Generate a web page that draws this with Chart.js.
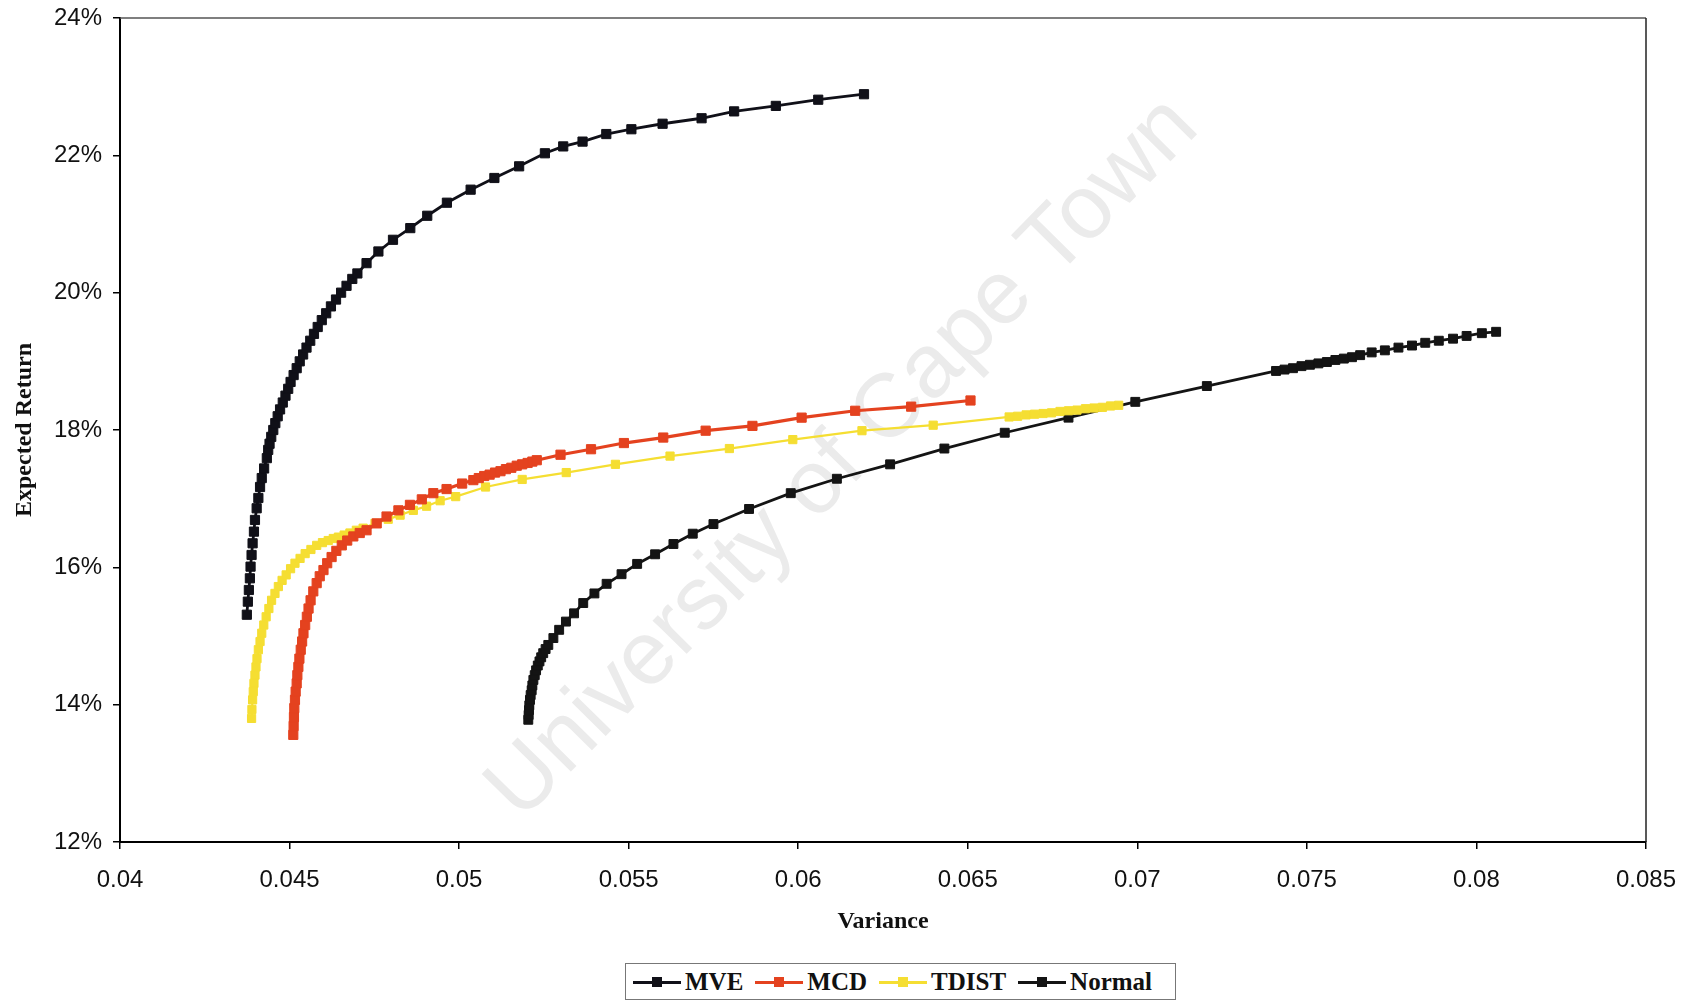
<!DOCTYPE html>
<html>
<head>
<meta charset="utf-8">
<script src="https://cdn.jsdelivr.net/npm/chart.js@4.4.1/dist/chart.umd.min.js"></script>
<style>
  html, body { margin: 0; padding: 0; background: #fff; }
  #wrap { position: relative; width: 1692px; height: 1002px; }
  #legend {
    position: absolute; left: 625px; top: 963px; width: 551px; height: 37px;
    box-sizing: border-box; border: 1px solid #777; background: #fff;
    display: flex; align-items: center; padding-left: 7px;
    font: bold 25px "Liberation Serif", serif; color: #111;
  }
  .item { display: flex; align-items: center; margin-right: 12px; }
  .swatch { position: relative; width: 48px; height: 12px; margin-right: 4px; }
  .swatch .ln { position: absolute; left: 0; right: 0; top: 5px; height: 3px; }
  .swatch .pt { position: absolute; left: 19px; top: 1px; width: 10px; height: 10px; }
</style>
</head>
<body>
<div id="wrap">
  <canvas id="chart" width="1692" height="1002"></canvas>
  <div id="legend"></div>
</div>
<script>
(function () {
  // axes
  const xTicks = [0.04, 0.045, 0.05, 0.055, 0.06, 0.065, 0.07, 0.075, 0.08, 0.085];
  const xTickLabels = ['0.04', '0.045', '0.05', '0.055', '0.06', '0.065', '0.07', '0.075', '0.08', '0.085'];
  const yTicks = [12, 14, 16, 18, 20, 22, 24];
  const yTickLabels = ['12%', '14%', '16%', '18%', '20%', '22%', '24%'];

  const seriesNames = ['MVE', 'MCD', 'TDIST', 'Normal'];
  const seriesColors = ['#101018', '#e4421f', '#f5de32', '#141414'];

  // MVE frontier: variance / expected return (%)
  const mveVariance = [
    0.04374, 0.04377, 0.04380, 0.04383, 0.04385, 0.04388, 0.04391, 0.04395, 0.04398, 0.04403,
    0.04408, 0.04413, 0.04418, 0.04425, 0.04433, 0.04437, 0.04441, 0.04446, 0.04452, 0.04458,
    0.04465, 0.04472, 0.04480, 0.04488, 0.04496, 0.04503, 0.04512, 0.04521, 0.04530, 0.04540,
    0.04550, 0.04561, 0.04572, 0.04583, 0.04595, 0.04608, 0.04622, 0.04637, 0.04652, 0.04668,
    0.04685, 0.04700, 0.04727, 0.04762, 0.04805, 0.04856, 0.04906, 0.04964, 0.05034, 0.05104,
    0.05177, 0.05253, 0.05307, 0.05364, 0.05434, 0.05508, 0.05600, 0.05715, 0.05811, 0.05934,
    0.06059, 0.06194
  ];
  const mveReturn = [
    15.31, 15.50, 15.67, 15.84, 16.01, 16.18, 16.35, 16.52, 16.69, 16.86,
    17.01, 17.17, 17.30, 17.44, 17.59, 17.71, 17.80, 17.90, 18.00, 18.10,
    18.20, 18.30, 18.40, 18.50, 18.60, 18.70, 18.80, 18.90, 19.00, 19.10,
    19.20, 19.30, 19.40, 19.50, 19.60, 19.70, 19.80, 19.90, 20.00, 20.10,
    20.20, 20.28, 20.43, 20.60, 20.77, 20.94, 21.12, 21.31, 21.50, 21.67,
    21.84, 22.03, 22.13, 22.20, 22.31, 22.38, 22.46, 22.54, 22.64, 22.72,
    22.81, 22.89
  ];

  // MCD frontier
  const mcdVariance = [
    0.04511, 0.04512, 0.04513, 0.04514, 0.04516, 0.04518, 0.04521, 0.04523, 0.04526, 0.04529,
    0.04533, 0.04537, 0.04541, 0.04546, 0.04551, 0.04556, 0.04562, 0.04570, 0.04580, 0.04589,
    0.04600, 0.04611, 0.04624, 0.04638, 0.04654, 0.04670, 0.04688, 0.04707, 0.04727, 0.04757,
    0.04786, 0.04821, 0.04855, 0.04890, 0.04924, 0.04963, 0.05009, 0.05042, 0.05058, 0.05074,
    0.05090, 0.05106, 0.05122, 0.05138, 0.05154, 0.05170, 0.05186, 0.05202, 0.05216, 0.05229,
    0.05299, 0.05389, 0.05486, 0.05602, 0.05727, 0.05865, 0.06010, 0.06168, 0.06333, 0.06508
  ];
  const mcdReturn = [
    13.56, 13.69, 13.82, 13.95, 14.07, 14.19, 14.31, 14.43, 14.55, 14.67,
    14.80, 14.92, 15.04, 15.16, 15.28, 15.40, 15.52, 15.65, 15.77, 15.87,
    15.96, 16.06, 16.15, 16.24, 16.32, 16.39, 16.45, 16.50, 16.54, 16.64,
    16.74, 16.83, 16.91, 16.99, 17.08, 17.14, 17.22, 17.27, 17.30, 17.33,
    17.35, 17.38, 17.40, 17.43, 17.45, 17.48, 17.50, 17.52, 17.54, 17.56,
    17.64, 17.72, 17.81, 17.89, 17.99, 18.06, 18.18, 18.28, 18.34, 18.43
  ];

  // TDIST frontier
  const tdistVariance = [
    0.04388, 0.04389, 0.04391, 0.04393, 0.04395, 0.04398, 0.04401, 0.04404, 0.04408, 0.04413,
    0.04418, 0.04424, 0.04431, 0.04439, 0.04447, 0.04457, 0.04467, 0.04478, 0.04490, 0.04503,
    0.04516, 0.04531, 0.04546, 0.04563, 0.04580, 0.04597, 0.04614, 0.04629, 0.04644, 0.04661,
    0.04678, 0.04697, 0.04717, 0.04752, 0.04791, 0.04826, 0.04865, 0.04904, 0.04944, 0.04990,
    0.05078, 0.05186, 0.05316, 0.05461, 0.05622, 0.05797, 0.05984, 0.06188, 0.06398, 0.06622,
    0.06647, 0.06672, 0.06697, 0.06722, 0.06747, 0.06772, 0.06797, 0.06822, 0.06847, 0.06872,
    0.06897, 0.06921, 0.06945
  ];
  const tdistReturn = [
    13.80, 13.93, 14.07, 14.19, 14.31, 14.43, 14.55, 14.67, 14.80, 14.92,
    15.04, 15.16, 15.28, 15.40, 15.52, 15.62, 15.72, 15.81, 15.89, 15.98,
    16.06, 16.13, 16.20, 16.26, 16.32, 16.36, 16.39, 16.42, 16.44, 16.47,
    16.50, 16.54, 16.57, 16.64, 16.70, 16.76, 16.83, 16.89, 16.97, 17.03,
    17.17, 17.28, 17.38, 17.50, 17.62, 17.73, 17.86, 17.99, 18.07, 18.19,
    18.20, 18.22, 18.23, 18.24, 18.25, 18.27, 18.28, 18.29, 18.31, 18.32,
    18.33, 18.35, 18.36
  ];

  // Normal frontier
  const normalVariance = [
    0.05204, 0.05205, 0.05206, 0.05207, 0.05209, 0.05211, 0.05214, 0.05216, 0.05219, 0.05223,
    0.05227, 0.05232, 0.05237, 0.05242, 0.05248, 0.05255, 0.05263, 0.05278, 0.05295, 0.05315,
    0.05339, 0.05366, 0.05399, 0.05435, 0.05479, 0.05525, 0.05578, 0.05632, 0.05689, 0.05750,
    0.05855, 0.05978, 0.06114, 0.06271, 0.06431, 0.06609, 0.06797, 0.06994, 0.07205, 0.07409,
    0.07434, 0.07459, 0.07484, 0.07509, 0.07534, 0.07559, 0.07584, 0.07609, 0.07633, 0.07657,
    0.07691, 0.07730, 0.07770, 0.07810, 0.07849, 0.07889, 0.07931, 0.07971, 0.08016, 0.08058
  ];
  const normalReturn = [
    13.78, 13.85, 13.92, 13.99, 14.07, 14.14, 14.21, 14.28, 14.36, 14.43,
    14.50, 14.57, 14.63, 14.69, 14.75, 14.81, 14.87, 14.97, 15.09, 15.21,
    15.33, 15.48, 15.62, 15.76, 15.90, 16.05, 16.19, 16.34, 16.49, 16.63,
    16.85, 17.08, 17.29, 17.50, 17.73, 17.96, 18.18, 18.41, 18.64, 18.86,
    18.88, 18.90, 18.93, 18.95, 18.97, 18.99, 19.02, 19.04, 19.06, 19.09,
    19.13, 19.16, 19.20, 19.23, 19.27, 19.30, 19.33, 19.37, 19.41, 19.43
  ];

  const watermarkText = 'University of Cape Town';

  const pts = (xs, ys) => xs.map((x, i) => ({ x: x, y: ys[i] }));
  const allData = [
    pts(mveVariance, mveReturn),
    pts(mcdVariance, mcdReturn),
    pts(tdistVariance, tdistReturn),
    pts(normalVariance, normalReturn)
  ];
  const lineWidths = [2.8, 3.2, 2.2, 2.8];
  const markerSizes = [6.5, 6.5, 5.8, 6.3];

  const datasets = seriesNames.map((name, i) => ({
    label: name,
    data: allData[i],
    showLine: true,
    borderColor: seriesColors[i],
    backgroundColor: seriesColors[i],
    borderWidth: lineWidths[i],
    pointStyle: 'rect',
    pointRadius: markerSizes[i],
    pointHoverRadius: markerSizes[i],
    pointBorderWidth: 1,
    pointBorderColor: seriesColors[i],
    pointBackgroundColor: seriesColors[i]
  }));

  // faint diagonal text sitting under the curves
  const watermark = {
    id: 'watermark',
    beforeDatasetsDraw(chart) {
      const { ctx, chartArea } = chart;
      const cx = chartArea.left + (chartArea.right - chartArea.left) * 0.474;
      const cy = chartArea.top + (chartArea.bottom - chartArea.top) * 0.535;
      ctx.save();
      ctx.translate(cx, cy);
      ctx.rotate(-45.5 * Math.PI / 180);
      ctx.font = '90px "Liberation Sans", Arial, sans-serif';
      ctx.fillStyle = '#ebebeb';
      ctx.textAlign = 'center';
      ctx.textBaseline = 'middle';
      ctx.fillText(watermarkText, 0, 0);
      ctx.restore();
    }
  };

  // top and right edges of the plot box
  const frame = {
    id: 'frame',
    afterDraw(chart) {
      const { ctx, chartArea } = chart;
      ctx.save();
      ctx.lineWidth = 1.5;
      ctx.strokeStyle = '#555';
      ctx.beginPath();
      ctx.moveTo(chartArea.left, chartArea.top);
      ctx.lineTo(chartArea.right, chartArea.top);
      ctx.stroke();
      ctx.strokeStyle = '#222';
      ctx.beginPath();
      ctx.moveTo(chartArea.right, chartArea.top);
      ctx.lineTo(chartArea.right, chartArea.bottom);
      ctx.stroke();
      ctx.restore();
    }
  };

  const tickFont = { family: '"Liberation Sans", Arial, sans-serif', size: 24 };
  const titleFont = { family: '"Liberation Serif", "Times New Roman", serif', size: 24, weight: 'bold' };

  new Chart(document.getElementById('chart'), {
    type: 'scatter',
    data: { datasets },
    options: {
      responsive: false,
      animation: false,
      layout: { padding: { left: 0, right: 46, top: 18, bottom: 52 } },
      plugins: { legend: { display: false }, tooltip: { enabled: false } },
      scales: {
        x: {
          type: 'linear',
          position: 'bottom',
          min: 0.04,
          max: 0.085,
          afterBuildTicks: (s) => { s.ticks = xTicks.map((v) => ({ value: v })); },
          afterFit: (s) => { s.height = 108; s.paddingLeft = 0; s.paddingRight = 0; },
          ticks: {
            font: tickFont, color: '#111', padding: 17, maxRotation: 0, autoSkip: false,
            callback: (v, i) => xTickLabels[i]
          },
          grid: { drawOnChartArea: false, drawTicks: true, tickLength: 7, color: '#000', lineWidth: 1.5 },
          border: { display: true, color: '#000', width: 2 },
          title: { display: true, text: 'Variance', font: titleFont, color: '#111', padding: { top: 0, bottom: 14 } }
        },
        y: {
          type: 'linear',
          position: 'left',
          min: 12,
          max: 24,
          afterBuildTicks: (s) => { s.ticks = yTicks.map((v) => ({ value: v })); },
          afterFit: (s) => { s.width = 120; s.paddingTop = 0; s.paddingBottom = 0; },
          ticks: {
            font: tickFont, color: '#111', padding: 11, autoSkip: false,
            callback: (v, i) => yTickLabels[i]
          },
          grid: { drawOnChartArea: false, drawTicks: true, tickLength: 7, color: '#000', lineWidth: 1.5 },
          border: { display: true, color: '#000', width: 2 },
          title: { display: true, text: 'Expected Return', font: titleFont, color: '#111', padding: { top: 10, bottom: 0 } }
        }
      }
    },
    plugins: [watermark, frame]
  });

  // legend: line with a square marker, then the series name
  const legend = document.getElementById('legend');
  legend.innerHTML = seriesNames.map((name, i) =>
    '<div class="item"><span class="swatch">' +
    '<span class="ln" style="background:' + seriesColors[i] + '"></span>' +
    '<span class="pt" style="background:' + seriesColors[i] + '"></span>' +
    '</span><span>' + name + '</span></div>'
  ).join('');
})();
</script>
</body>
</html>
